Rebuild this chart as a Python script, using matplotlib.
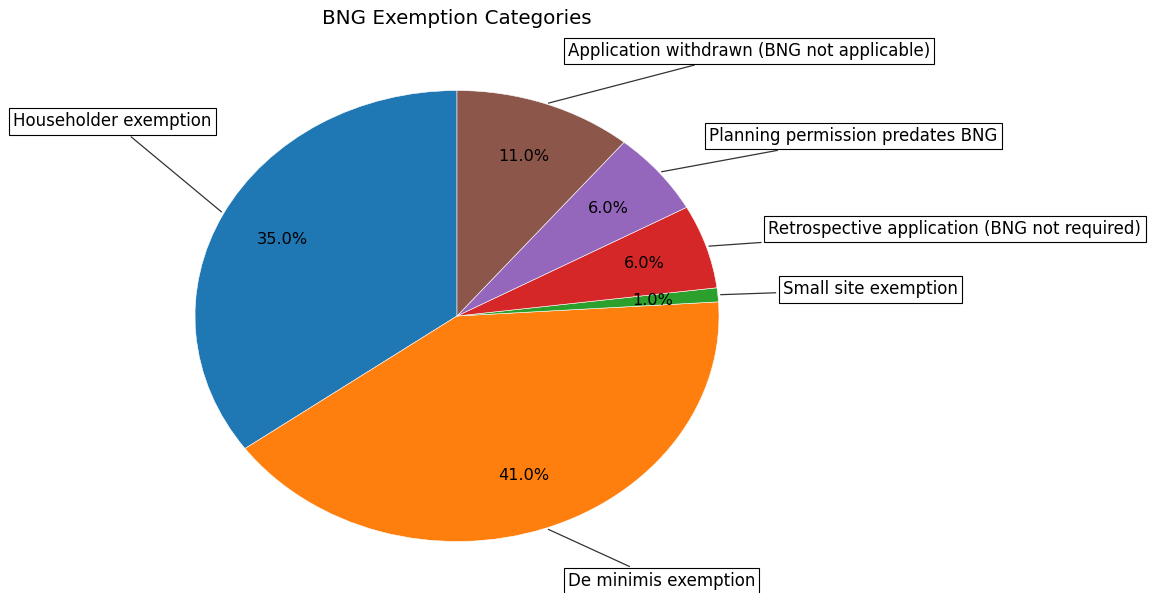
import numpy as np
import matplotlib
matplotlib.use("Agg")
import matplotlib.pyplot as plt

labels = ["Householder exemption", "De minimis exemption", "Small site exemption",
          "Retrospective application (BNG not required)",
          "Planning permission predates BNG",
          "Application withdrawn (BNG not applicable)"]
values = [35, 41, 1, 6, 6, 11]
colors = ["#1f77b4", "#ff7f0e", "#2ca02c", "#d62728", "#9467bd", "#8c564b"]

W, H = 1157, 593
fig = plt.figure(figsize=(W / 100, H / 100), dpi=100)
ax = fig.add_axes([0, 0, 1, 1])

wedges, texts, autotexts = ax.pie(values, colors=colors, startangle=90,
                                  autopct="%1.1f%%", pctdistance=0.75,
                                  wedgeprops=dict(edgecolor="white", linewidth=0.4),
                                  textprops=dict(fontsize=11.6))
ax.set_aspect("auto")
cx, cy, rx, ry = 457, 316, 262, 225.5
ax.set_xlim(-cx / rx, (W - cx) / rx)
ax.set_ylim(-(H - cy) / ry, cy / ry)
ax.axis("off")

label_scale = [1.9, 1.25, 1.25, 1.25, 1.25, 1.25]
bbox_props = dict(boxstyle="square,pad=0.25", fc="w", ec="k", lw=0.8)
for i, p in enumerate(wedges):
    ang = (p.theta2 - p.theta1) / 2. + p.theta1
    x = np.cos(np.deg2rad(ang))
    y = np.sin(np.deg2rad(ang))
    k = label_scale[i]
    ax.annotate(labels[i], xy=(x, y), xytext=(k * x, k * y), ha="left", va="center",
                fontsize=12, bbox=bbox_props, zorder=0,
                arrowprops=dict(arrowstyle="-", color="#333333", lw=0.9))

fig.text(cx / W, 1 - 18 / H, "BNG Exemption Categories", ha="center", va="center", fontsize=14.3)
fig.savefig("out.png", dpi=100)
